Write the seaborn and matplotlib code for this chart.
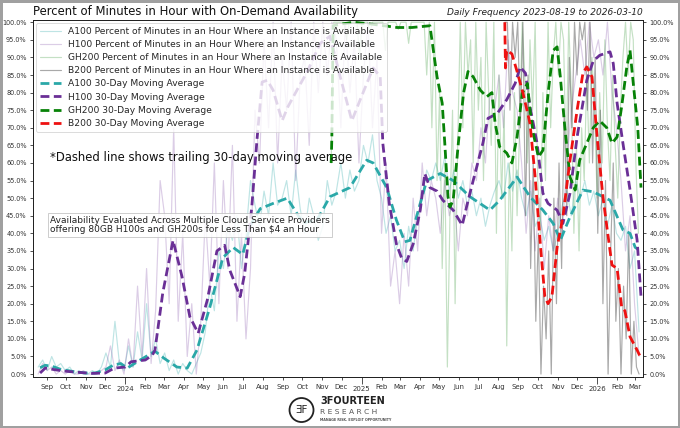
import pandas as pd
import numpy as np
import matplotlib
matplotlib.use('Agg')
import matplotlib.pyplot as plt
import matplotlib.dates as mdates
from matplotlib.ticker import PercentFormatter, MultipleLocator
from matplotlib.patches import Ellipse
import seaborn as sns

a100_raw_start = '2023-08-19'
a100_raw = [2, 4,
            1, 5, 2, 3,
            1, 2, 0, 1, 0,
            0, 1, 0, 2,
            6, 2, 15, 3, 1,
            8, 2, 12, 4,
            20, 5, 10, 3,
            6, 1, 4, 0, 3,
            1, 0, 3, 6,
            12, 25, 18, 35,
            30, 42, 38, 45, 30,
            40, 55, 48, 42,
            52, 45, 60, 48, 50,
            55, 45, 58, 47,
            40, 50, 45, 38,
            42, 55, 48, 52, 60,
            50, 58, 52, 55,
            65, 60, 68, 55,
            50, 40, 45, 35,
            38, 30, 42, 35, 45,
            50, 58, 55, 60,
            55, 62, 52, 58,
            50, 55, 48, 52, 45,
            50, 42, 48, 52,
            55, 50, 60, 52, 58,
            50, 45, 52, 42,
            45, 38, 42, 35, 40,
            48, 52, 45, 55,
            50, 55, 48, 52,
            45, 50, 42, 48, 40,
            38, 42, 30, 35,
            12]

h100_raw_start = '2023-08-19'
h100_raw = [0, 3, 1, 2, 0, 1, 0, 1, 0, 0, 1, 0, 0, 0, 1,
            2, 8, 1, 4, 0,
            10, 2, 25, 5,
            30, 3, 18, 55,
            45, 20, 70, 15, 40,
            5, 20, 0, 15,
            45, 25, 60, 20,
            55, 30, 65, 15, 40,
            10, 30, 75, 60,
            95, 70, 100, 60, 90,
            75, 100, 55, 85,
            90, 65, 100, 80,
            100, 85, 100, 95, 70,
            100, 80, 95, 60,
            85, 100, 70, 90,
            40, 60, 25, 35,
            20, 40, 25, 50, 35,
            60, 45, 55, 50,
            40, 55, 45, 50,
            35, 50, 45, 60, 55,
            70, 60, 80, 75,
            85, 70, 95, 80, 75,
            60, 40, 55, 35,
            50, 30, 45, 35, 50,
            40, 60, 75, 85,
            95, 85, 100, 90,
            95, 85, 100, 80, 70,
            55, 35, 45, 20,
            5]

gh200_raw_start = '2024-11-15'
gh200_raw = [60, 100, 100, 100,
             100, 100, 95, 100, 100, 100, 100, 90,
             100, 100, 100, 97, 100, 100, 100, 100,
             100, 92, 100, 100, 100, 100, 98,
             100, 100, 100, 94, 100, 100, 100, 100,
             100, 100, 85, 100, 70, 100, 55,
             80, 30, 60, 2, 45, 75, 20, 65,
             100, 70, 100, 85, 95, 60, 100, 75,
             90, 55, 100, 80, 65, 100, 40, 85,
             50, 75, 8, 60, 35, 80, 45,
             70, 100, 85, 60, 95, 75, 100, 55,
             40, 80, 55, 100, 70, 90, 100, 85,
             100, 95, 60, 100, 80, 40, 65,
             35, 70, 55, 85, 60, 90, 75, 50,
             80, 60, 95, 70, 55, 85, 65, 50,
             75, 90, 100, 85, 100, 95, 60,
             40]

b200_raw_start = '2025-08-11'
b200_raw = [100, 100, 75, 100, 90, 100,
            70, 100, 45, 85, 30, 60, 15,
            40, 0, 25, 10, 35, 0, 50, 20,
            60, 30, 75, 45, 90, 70, 100,
            85, 100, 95, 100, 75, 100, 60, 90,
            40, 75, 20, 55, 0, 35, 60, 15,
            30, 0, 25, 10, 40, 0, 15,
            2, 0]

# 30-day moving averages
a100_ma_dates = ['2023-08-22', '2023-08-30', '2023-09-10', '2023-09-22', '2023-10-10', '2023-10-31',
                 '2023-11-15', '2023-12-01', '2023-12-13', '2023-12-25', '2024-01-04', '2024-01-24',
                 '2024-02-16', '2024-03-01', '2024-03-21', '2024-04-06', '2024-04-21', '2024-05-11',
                 '2024-05-31', '2024-06-16', '2024-07-01', '2024-07-12', '2024-07-28', '2024-08-17',
                 '2024-09-08', '2024-10-02', '2024-10-24', '2024-11-13', '2024-12-14', '2025-01-09',
                 '2025-01-19', '2025-02-09', '2025-02-24', '2025-03-09', '2025-03-17', '2025-04-02',
                 '2025-04-12', '2025-05-03', '2025-05-23', '2025-06-18', '2025-07-19', '2025-08-03',
                 '2025-08-30', '2025-09-19', '2025-10-09', '2025-10-25', '2025-11-05', '2025-11-20',
                 '2025-12-10', '2025-12-26', '2026-01-21', '2026-02-10', '2026-02-21', '2026-03-01',
                 '2026-03-05']
a100_ma = [1.8, 2.5, 2.2, 1.4, 0.8, 0.3,
           0.3, 1.2, 2.5, 3.0, 1.7, 4.0,
           6.5, 4.5, 2.0, 1.7, 6.8, 19,
           33, 36, 34, 42, 47, 48.5,
           50, 43, 43.8, 50.4, 53, 60.8,
           60, 53, 43.8, 37.6, 38, 48.5,
           55, 57, 55, 50.4, 46.6, 49.4,
           56, 50.4, 46.6, 42.8, 38, 44.7,
           52.3, 51.8, 49.4, 41, 40, 36,
           35.5]

h100_ma_dates = ['2023-08-22', '2023-08-30', '2023-09-15', '2023-10-01', '2023-10-20', '2023-11-10',
                 '2023-12-01', '2023-12-15', '2024-01-01', '2024-01-10', '2024-02-01', '2024-02-12',
                 '2024-02-16', '2024-02-28', '2024-03-15', '2024-03-29', '2024-04-10', '2024-04-23',
                 '2024-05-07', '2024-05-22', '2024-06-03', '2024-06-11', '2024-06-27', '2024-07-04',
                 '2024-07-15', '2024-07-23', '2024-07-31', '2024-08-08', '2024-08-17', '2024-08-31',
                 '2024-09-09', '2024-09-23', '2024-10-09', '2024-10-29', '2024-11-13', '2024-11-29',
                 '2024-12-17', '2024-12-30', '2025-01-19', '2025-01-30', '2025-02-03', '2025-02-13',
                 '2025-02-24', '2025-03-04', '2025-03-12', '2025-03-22', '2025-04-02', '2025-04-09',
                 '2025-04-17', '2025-04-28', '2025-05-07', '2025-05-23', '2025-06-06', '2025-06-14',
                 '2025-06-23', '2025-07-08', '2025-07-16', '2025-07-30', '2025-08-14', '2025-08-27',
                 '2025-09-04', '2025-09-12', '2025-09-19', '2025-09-30', '2025-10-09', '2025-10-17',
                 '2025-10-31', '2025-11-09', '2025-11-20', '2025-12-01', '2025-12-16', '2025-12-26',
                 '2026-01-05', '2026-01-21', '2026-01-26', '2026-02-01', '2026-02-10', '2026-02-21',
                 '2026-03-04', '2026-03-10']
h100_ma = [0.3, 1.7, 1.2, 0.8, 0.5, 0.2,
           0.3, 1.7, 2.0, 3.5, 4.0, 5.4,
           6.8, 23, 38, 27.6, 16.3, 11.6,
           21, 35, 36.6, 29.5, 22, 28.6,
           47.5, 66.5, 83, 83.5, 80.7, 72,
           76, 80.7, 86, 94, 96, 84.5,
           72, 78, 87, 84.5, 65.6, 48.5,
           37, 33, 32, 37, 46.6, 57,
           53, 52, 49.4, 46.6, 42.3, 48.5,
           55, 65.6, 72.7, 74, 78, 82.6,
           87.3, 85.5, 76, 65.6, 51.4, 48.5,
           46.6, 42.8, 51.4, 67.4, 83.5, 89,
           90.6, 91.6, 88.3, 77, 65.6, 52.3,
           38, 22]

gh200_ma_dates = ['2024-11-15', '2024-11-16', '2024-11-18', '2024-12-01', '2024-12-20', '2025-01-15',
                  '2025-02-05', '2025-02-25', '2025-03-20', '2025-04-17', '2025-04-28', '2025-05-06',
                  '2025-05-10', '2025-05-15', '2025-05-18', '2025-05-23', '2025-05-31', '2025-06-08',
                  '2025-06-15', '2025-06-23', '2025-07-04', '2025-07-14', '2025-07-22', '2025-07-27',
                  '2025-08-03', '2025-08-14', '2025-08-22', '2025-08-30', '2025-09-07', '2025-09-15',
                  '2025-09-19', '2025-09-24', '2025-10-02', '2025-10-09', '2025-10-17', '2025-10-25',
                  '2025-10-31', '2025-11-05', '2025-11-12', '2025-11-20', '2025-11-28', '2025-12-05',
                  '2025-12-16', '2025-12-26', '2026-01-05', '2026-01-16', '2026-01-24', '2026-02-01',
                  '2026-02-08', '2026-02-16', '2026-02-21', '2026-02-25', '2026-03-05', '2026-03-10']
gh200_ma = [60, 67, 99, 99.5, 100, 99.5,
            99, 98.5, 98.5, 99, 84.5, 77,
            65.6, 50.4, 47.5, 49.4, 65.6, 79.8,
            86, 84.5, 80.7, 78.8, 80, 71.3,
            64.6, 62.8, 60, 67.4, 79.8, 82.6,
            75, 68.5, 61.7, 63.6, 79.8, 92,
            93, 84.5, 70, 56, 52.3, 60.8,
            65.6, 70, 72, 70, 65.6, 67.4,
            76, 87.3, 92, 84.5, 70, 53]

b200_ma_dates = ['2025-08-11', '2025-08-12', '2025-08-14', '2025-08-22', '2025-08-30', '2025-09-08',
                 '2025-09-19', '2025-09-27', '2025-10-05', '2025-10-12', '2025-10-17', '2025-10-23',
                 '2025-10-31', '2025-11-09', '2025-11-20', '2025-12-01', '2025-12-10', '2025-12-16',
                 '2025-12-24', '2026-01-01', '2026-01-10', '2026-01-16', '2026-01-24', '2026-02-01',
                 '2026-02-08', '2026-02-13', '2026-02-21', '2026-03-04', '2026-03-10']
b200_ma = [100, 87, 92, 91, 86, 80,
           71.3, 56, 37, 22, 20, 22,
           36, 44.7, 60.8, 75, 85.5, 87.3,
           84.5, 67.4, 50.4, 42, 31, 30,
           19, 18, 10.6, 6.8, 4.5]

chips = ['A100', 'H100', 'GH200', 'B200']
ma_colors = ['#2aa8a8', '#6a2f96', '#078207', '#ee1111']
raw_colors = ['#2aa8a8', '#8a5aad', '#3c9a3c', '#555555']
raw_alpha = [0.3, 0.3, 0.3, 0.5]

sns.set_theme(style='ticks')
plt.rcParams['font.family'] = ['DejaVu Sans']

fig = plt.figure(figsize=(6.8, 4.28), dpi=100)
fig.patch.set_edgecolor('#a0a0a0')
fig.patch.set_linewidth(2.5)
ax = fig.add_axes([0.0485, 0.119, 0.897, 0.834])

raws = [(a100_raw_start, a100_raw, 7), (h100_raw_start, h100_raw, 7),
        (gh200_raw_start, gh200_raw, 4), (b200_raw_start, b200_raw, 4)]
for (start, vals, step), chip, c, al in zip(raws, chips, raw_colors, raw_alpha):
    d = pd.date_range(start, periods=len(vals), freq=f'{step}D')
    sns.lineplot(x=d, y=vals, ax=ax, color=c, alpha=al, linewidth=0.85,
                 label=f'{chip} Percent of Minutes in an Hour Where an Instance is Available')

mas = [(a100_ma_dates, a100_ma), (h100_ma_dates, h100_ma),
       (gh200_ma_dates, gh200_ma), (b200_ma_dates, b200_ma)]
for (dates, vals), chip, c in zip(mas, chips, ma_colors):
    sns.lineplot(x=pd.to_datetime(dates), y=vals, ax=ax, color=c, linewidth=2,
                 linestyle=(0, (3.2, 1.6)), label=f'{chip} 30-Day Moving Average')

ax.set_xlim(pd.Timestamp('2023-08-11'), pd.Timestamp('2026-03-13'))
ax.set_ylim(-0.85, 100.6)
ax.set_xlabel('')
ax.set_ylabel('')

ax.xaxis.set_major_locator(mdates.YearLocator())
ax.xaxis.set_major_formatter(mdates.DateFormatter('%Y'))
ax.xaxis.set_minor_locator(mdates.MonthLocator(bymonth=range(2, 13)))
ax.xaxis.set_minor_formatter(mdates.DateFormatter('%b'))
ax.tick_params(axis='x', which='major', length=5, pad=1.2, labelsize=5, width=0.6, colors='#333333')
ax.tick_params(axis='x', which='minor', length=2.5, pad=2.5, labelsize=5, width=0.6, colors='#333333')

ax.yaxis.set_major_locator(MultipleLocator(5))
ax.yaxis.set_major_formatter(PercentFormatter(100, decimals=1))
ax.tick_params(axis='y', length=2.5, pad=2, labelsize=4.7, width=0.6, colors='#333333')

ax2 = ax.twinx()
ax2.set_ylim(ax.get_ylim())
ax2.yaxis.set_major_locator(MultipleLocator(5))
ax2.yaxis.set_major_formatter(PercentFormatter(100, decimals=1))
ax2.tick_params(axis='y', length=2.5, pad=2, labelsize=4.7, width=0.6, colors='#333333')

for a in (ax, ax2):
    for s in a.spines.values():
        s.set_linewidth(0.7)
        s.set_color('#222222')

leg = ax.legend(loc='upper left', fontsize=6.6, frameon=True, framealpha=0.8,
                edgecolor='#cccccc', borderaxespad=0.3, handlelength=2.3,
                labelspacing=0.45, borderpad=0.45)
leg.get_frame().set_linewidth(0.6)
leg.set_zorder(5)

ax.set_title('Percent of Minutes in Hour with On-Demand Availability', loc='left',
             fontsize=8.4, pad=3, color='#111111')
ax.set_title('Daily Frequency 2023-08-19 to 2026-03-10', loc='right',
             fontsize=6.5, style='italic', pad=4, color='#222222')

ax.text(0.028, 0.616, '*Dashed line shows trailing 30-day moving average',
        transform=ax.transAxes, fontsize=8.4, va='center', ha='left', color='#111111')
ax.text(0.028, 0.426,
        'Availability Evaluated Across Multiple Cloud Service Providers\n'
        'offering 80GB H100s and GH200s for Less Than $4 an Hour',
        transform=ax.transAxes, fontsize=6.5, va='center', ha='left', color='#222222',
        linespacing=1.1,
        bbox=dict(boxstyle='square,pad=0.25', facecolor='white', edgecolor='#bbbbbb',
                  linewidth=0.6, alpha=0.85))

# logo
fig.add_artist(Ellipse((0.4434, 0.042), 24 / 680, 24 / 428, transform=fig.transFigure,
                       facecolor='white', edgecolor='#222222', linewidth=1.3))
fig.text(0.4434, 0.042, 'ƎF', fontsize=7.5, ha='center', va='center', color='#222222')
fig.text(0.471, 0.062, '3FOURTEEN', fontsize=7, weight='bold', ha='left', va='center',
         color='#222222')
fig.text(0.471, 0.037, 'R E S E A R C H', fontsize=5.4, ha='left', va='center',
         color='#555555')
fig.text(0.471, 0.019, 'MANAGE RISK. EXPLOIT OPPORTUNITY', fontsize=2.4, ha='left',
         va='center', color='#555555', weight='bold')

fig.savefig('out.png', dpi=100)
